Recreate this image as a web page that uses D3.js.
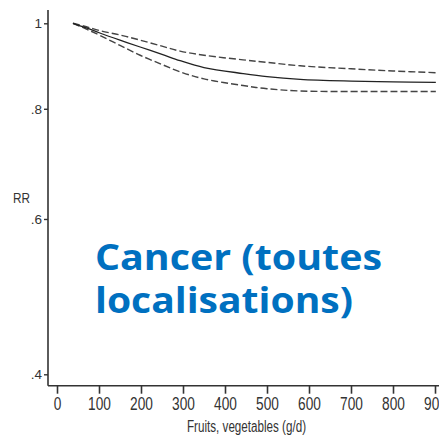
<!DOCTYPE html>
<html>
<head>
<meta charset="utf-8">
<script src="https://cdn.jsdelivr.net/npm/d3@7"></script>
<style>
  body { margin: 0; background: #fff; }
  svg { display: block; }
  .narrow { font-family: "Liberation Sans Narrow", "Liberation Sans", Arial, sans-serif; fill: #333; }
</style>
</head>
<body>
<div id="chart"></div>
<script>
// fruit & vegetable intake (g/d) vs relative risk
const intake = [38, 70, 102, 150, 198, 250, 293, 350, 443, 500, 579, 700, 800, 902];
const rr_mid = [1.0, 0.988, 0.975, 0.957, 0.940, 0.922, 0.907, 0.891, 0.877, 0.870, 0.864, 0.860, 0.858, 0.857];
const rr_upper = [1.0, 0.991, 0.981, 0.970, 0.957, 0.942, 0.930, 0.920, 0.909, 0.903, 0.895, 0.888, 0.883, 0.879];
const rr_lower = [1.0, 0.985, 0.969, 0.944, 0.920, 0.898, 0.881, 0.865, 0.850, 0.843, 0.838, 0.837, 0.837, 0.837];

const x_ticks = [0, 100, 200, 300, 400, 500, 600, 700, 800, 900];
const y_ticks = [1, 0.8, 0.6, 0.4];
const y_tick_labels = ["1", ".8", ".6", ".4"];

const W = 439, H = 435;
const svg = d3.select("#chart").append("svg")
  .attr("width", W).attr("height", H);

const x = d3.scaleLinear().domain([0, 900]).range([57, 435]);
const y = d3.scaleLog().domain([0.4, 1]).range([374.3, 23.3]);
const axis_x0 = 48, axis_y0 = 385.7;

// axis lines
svg.append("line")
  .attr("x1", axis_x0).attr("x2", axis_x0)
  .attr("y1", 10).attr("y2", axis_y0)
  .attr("stroke", "#333").attr("stroke-width", 1.6);
svg.append("line")
  .attr("x1", axis_x0).attr("x2", W)
  .attr("y1", axis_y0).attr("y2", axis_y0)
  .attr("stroke", "#333").attr("stroke-width", 1.6);

// x axis ticks
const xa = svg.append("g").attr("transform", `translate(0,${axis_y0})`)
  .call(d3.axisBottom(x).tickValues(x_ticks).tickSize(8).tickSizeOuter(0).tickPadding(3));
xa.select(".domain").remove();
xa.selectAll(".tick line").attr("stroke", "#333").attr("stroke-width", 1.6);
xa.selectAll(".tick text")
  .attr("class", "narrow")
  .style("font-size", "18.5px")
  .attr("transform", "scale(0.74,1)");

// y axis ticks
const ya = svg.append("g").attr("transform", `translate(${axis_x0},0)`)
  .call(d3.axisLeft(y).tickValues(y_ticks).tickSize(4).tickPadding(2)
    .tickFormat((d, i) => y_tick_labels[i]));
ya.select(".domain").remove();
ya.selectAll(".tick line").attr("stroke", "#333").attr("stroke-width", 1.4);
ya.selectAll(".tick text")
  .attr("class", "narrow")
  .style("font-size", "13.5px")
  .attr("text-anchor", "end");

// axis titles
svg.append("text")
  .attr("class", "narrow")
  .attr("x", 187).attr("y", 432)
  .attr("textLength", 119).attr("lengthAdjust", "spacingAndGlyphs")
  .style("font-size", "16px")
  .text("Fruits, vegetables (g/d)");
svg.append("text")
  .attr("class", "narrow")
  .attr("x", 13).attr("y", 203)
  .attr("textLength", 17).attr("lengthAdjust", "spacingAndGlyphs")
  .style("font-size", "15px")
  .text("RR");

// curves
const make_line = (vals) => d3.line()
  .x((d, i) => x(intake[i]))
  .y((d, i) => y(vals[i]))
  .curve(d3.curveCatmullRom.alpha(0.5))(vals);

svg.append("path")
  .attr("d", make_line(rr_upper))
  .attr("fill", "none").attr("stroke", "#444").attr("stroke-width", 1.4)
  .attr("stroke-dasharray", "7,3");
svg.append("path")
  .attr("d", make_line(rr_lower))
  .attr("fill", "none").attr("stroke", "#444").attr("stroke-width", 1.4)
  .attr("stroke-dasharray", "7,3");
svg.append("path")
  .attr("d", make_line(rr_mid))
  .attr("fill", "none").attr("stroke", "#222").attr("stroke-width", 1.3);

// overlay label
const label = svg.append("g")
  .style("font-family", "'Open Sans', 'Noto Sans', sans-serif")
  .style("font-weight", "bold")
  .style("font-size", "35px")
  .attr("fill", "#0070C0");
label.append("text").attr("x", 95).attr("y", 270)
  .attr("textLength", 287).attr("lengthAdjust", "spacingAndGlyphs")
  .text("Cancer (toutes");
label.append("text").attr("x", 95).attr("y", 313)
  .attr("textLength", 258).attr("lengthAdjust", "spacingAndGlyphs")
  .text("localisations)");
</script>
</body>
</html>
